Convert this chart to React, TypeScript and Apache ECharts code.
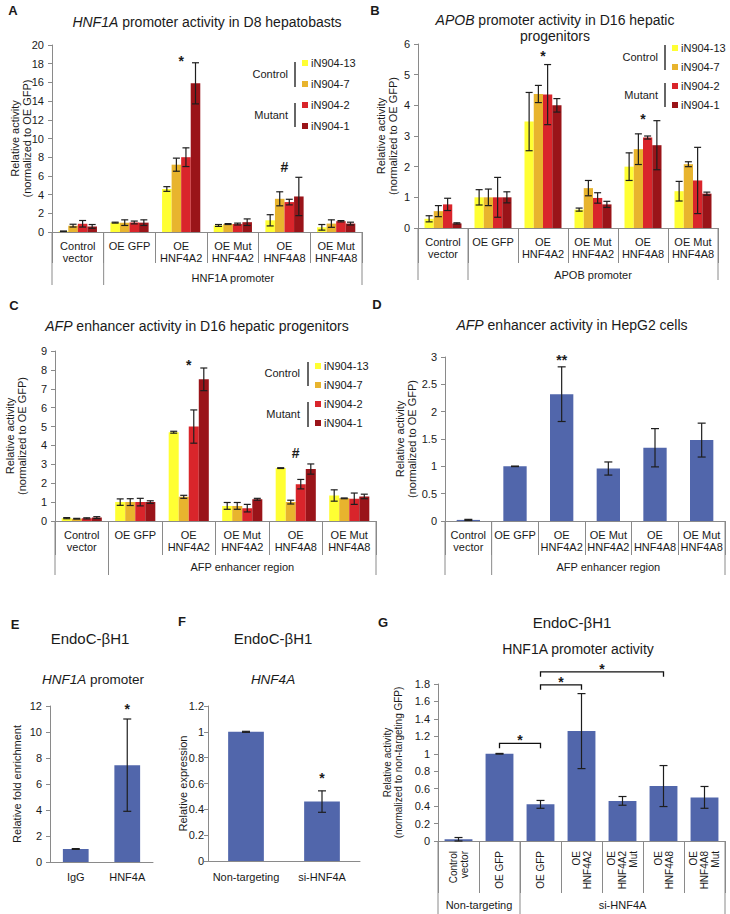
import React, { useEffect, useRef } from "react";
import * as echarts from "echarts";

const FONT = "'Liberation Sans', Arial, Helvetica, sans-serif";
const TEXT = "#1a1a1a";
const AXIS = "#8a8a8a";
const ERR = "#1e1e1e";
const BLUE = "#5166AB";

// ---------- data ----------
const promoterCategories = ["Control\nvector", "OE GFP", "OE\nHNF4A2", "OE Mut\nHNF4A2", "OE\nHNF4A8", "OE Mut\nHNF4A8"];
const lineNames = ["iN904-13", "iN904-7", "iN904-2", "iN904-1"];
const lineColors = ["#FFFF33", "#E8B42E", "#D9252B", "#9A1419"];

// Panel A: HNF1A promoter, D8 hepatoblasts (rows = lines, cols = categories)
const aMeans = [
  [0.08, 1.0, 4.6, 0.7, 1.25, 0.5],
  [0.68, 1.0, 7.2, 0.85, 3.55, 0.9],
  [0.88, 1.02, 8.0, 0.85, 3.2, 1.15],
  [0.6, 1.0, 15.9, 1.05, 3.8, 0.9],
];
const aErrors = [
  [0.02, 0.05, 0.25, 0.1, 0.6, 0.3],
  [0.15, 0.3, 0.7, 0.05, 0.75, 0.4],
  [0.35, 0.15, 1.0, 0.1, 0.3, 0.07],
  [0.2, 0.3, 2.2, 0.35, 2.05, 0.15],
];
// Panel B: APOB promoter, D16 hepatic progenitors
const bMeans = [
  [0.3, 1.0, 3.47, 0.6, 2.0, 1.2],
  [0.55, 1.0, 4.37, 1.3, 2.57, 2.08],
  [0.77, 1.0, 4.35, 0.98, 2.95, 1.55],
  [0.15, 1.0, 4.0, 0.77, 2.7, 1.12],
];
const bErrors = [
  [0.1, 0.25, 0.95, 0.05, 0.45, 0.32],
  [0.18, 0.27, 0.28, 0.25, 0.5, 0.08],
  [0.2, 0.65, 0.98, 0.17, 0.05, 1.08],
  [0.02, 0.18, 0.22, 0.1, 0.8, 0.05],
];
// Panel C: AFP enhancer, D16 hepatic progenitors
const cMeans = [
  [0.15, 1.0, 4.7, 0.8, 2.8, 1.35],
  [0.12, 1.0, 1.28, 0.8, 1.0, 1.2],
  [0.14, 1.0, 5.0, 0.68, 1.95, 1.18],
  [0.18, 1.0, 7.5, 1.15, 2.75, 1.3],
];
const cErrors = [
  [0.03, 0.17, 0.05, 0.18, 0.02, 0.3],
  [0.02, 0.18, 0.08, 0.18, 0.1, 0.02],
  [0.03, 0.2, 0.88, 0.2, 0.25, 0.3],
  [0.05, 0.07, 0.6, 0.05, 0.27, 0.12],
];
// Panel D: AFP enhancer, HepG2
const dMeans = [0.02, 1.0, 2.32, 0.96, 1.34, 1.48];
const dErrors = [0.01, 0.005, 0.5, 0.12, 0.35, 0.31];
// Panel E
const eCategories = ["IgG", "HNF4A"];
const eMeans = [1.0, 7.45];
const eErrors = [0.03, 3.55];
// Panel F
const fCategories = ["Non-targeting", "si-HNF4A"];
const fMeans = [1.0, 0.46];
const fErrors = [0.004, 0.083];
// Panel G
const gCategories = ["Control\nvector", "OE GFP", "OE GFP", "OE\nHNF4A2", "OE\nHNF4A2\nMut", "OE\nHNF4A8", "OE\nHNF4A8\nMut"];
const gMeans = [0.02, 1.0, 0.42, 1.26, 0.46, 0.63, 0.5];
const gErrors = [0.02, 0.004, 0.045, 0.43, 0.05, 0.235, 0.125];

// group labels under the category axes
const abcdGroups: [number, number, string][][] = [
  [[1, 6, "HNF1A promoter"]],
  [[1, 6, "APOB promoter"]],
  [[1, 6, "AFP enhancer region"]],
  [[1, 6, "AFP enhancer region"]],
];
const gGroups: [number, number, string][] = [
  [0, 2, "Non-targeting"],
  [2, 7, "si-HNF4A"],
];

// significance marks: category index, value where the mark sits, text
const aMarks = [{ cat: 2, value: 18.3, text: "*" }, { cat: 4, value: 6.95, text: "#" }];
const bMarks = [{ cat: 2, value: 5.6, text: "*" }, { cat: 4, value: 3.55, text: "*" }];
const cMarks = [{ cat: 2, value: 8.26, text: "*" }, { cat: 4, value: 3.6, text: "#" }];
const dMarks = [{ cat: 2, value: 2.95, text: "**" }];
const eMarks = [{ cat: 1, value: 11.75, text: "*" }];
const fMarks = [{ cat: 1, value: 0.64, text: "*" }];
// G comparison brackets: from category, to category, bracket level
const gBrackets = [
  { from: 1, to: 2, value: 1.12 },
  { from: 2, to: 3, value: 1.79 },
  { from: 2, to: 5, value: 1.94 },
];

// ---------- layout ----------
const layouts = [
  { left: 52, top: 45, width: 310, height: 187 }, // A
  { left: 418, top: 44, width: 300, height: 184 }, // B
  { left: 55, top: 351, width: 321, height: 170 }, // C
  { left: 445, top: 357, width: 280, height: 164 }, // D
  { left: 50, top: 706, width: 103, height: 156 }, // E
  { left: 208, top: 706, width: 152, height: 155 }, // F
  { left: 438, top: 684, width: 287, height: 157 }, // G
];

function catAxis(gi: number, data: string[], tickLen: number, extra: any = {}) {
  return {
    type: "category",
    gridIndex: gi,
    data,
    axisLine: { show: true, lineStyle: { color: AXIS, width: 1 } },
    axisTick: { show: tickLen > 0, length: tickLen, interval: 0, lineStyle: { color: AXIS, width: 1 } },
    axisLabel: {
      interval: 0,
      fontSize: 11,
      lineHeight: 12,
      color: TEXT,
      fontFamily: FONT,
      margin: 8,
      ...extra,
    },
    splitLine: { show: false },
  };
}

function valAxis(gi: number, max: number, interval: number, name: string, nameGap: number, nameSize = 11, labelMargin = 8) {
  return {
    type: "value",
    gridIndex: gi,
    min: 0,
    max,
    interval,
    name,
    nameLocation: "middle",
    nameGap,
    nameRotate: 90,
    nameMoveOverlap: false,
    nameTextStyle: { fontSize: nameSize, lineHeight: nameSize + 1, color: TEXT, fontFamily: FONT },
    axisLine: { show: true, lineStyle: { color: AXIS, width: 1 } },
    axisTick: { show: true, length: 4, inside: false, lineStyle: { color: AXIS } },
    axisLabel: { fontSize: 11, color: TEXT, fontFamily: FONT, margin: labelMargin },
    splitLine: { show: false },
  };
}

function errorSeries(gi: number, data: number[][], n: number, gapFrac: number, cap: number) {
  return {
    type: "custom",
    xAxisIndex: gi,
    yAxisIndex: gi,
    data,
    z: 10,
    silent: true,
    encode: { x: 0, y: [2, 3] },
    renderItem: (_params: any, api: any) => {
      const c = api.value(0);
      const k = api.value(1);
      const band = api.size([1, 0])[0];
      const bw = (band * (1 - gapFrac)) / n;
      const cx = api.coord([c, 0])[0] + (k - (n - 1) / 2) * bw;
      const yl = api.coord([c, api.value(2)])[1];
      const yh = api.coord([c, api.value(3)])[1];
      const st = { stroke: ERR, lineWidth: 1.2 };
      return {
        type: "group",
        children: [
          { type: "line", shape: { x1: cx, y1: yl, x2: cx, y2: yh }, style: st },
          { type: "line", shape: { x1: cx - cap, y1: yh, x2: cx + cap, y2: yh }, style: st },
          { type: "line", shape: { x1: cx - cap, y1: yl, x2: cx + cap, y2: yl }, style: st },
        ],
      };
    },
  };
}

function groupedSeries(gi: number, means: number[][], errors: number[][], gapFrac: number) {
  const out: any[] = means.map((row, k) => ({
    type: "bar",
    name: lineNames[k],
    xAxisIndex: gi,
    yAxisIndex: gi,
    data: row,
    barGap: "0%",
    barCategoryGap: `${gapFrac * 100}%`,
    itemStyle: { color: lineColors[k] },
    silent: true,
  }));
  const err: number[][] = [];
  means.forEach((row, k) =>
    row.forEach((m, c) => err.push([c, k, Math.max(0, m - errors[k][c]), m + errors[k][c]]))
  );
  out.push(errorSeries(gi, err, means.length, gapFrac, 3.5));
  return out;
}

function singleSeries(gi: number, means: number[], errors: number[], gapFrac: number, cap: number) {
  const err = means.map((m, c) => [c, 0, Math.max(0, m - errors[c]), m + errors[c]]);
  return [
    {
      type: "bar",
      xAxisIndex: gi,
      yAxisIndex: gi,
      data: means,
      barCategoryGap: `${gapFrac * 100}%`,
      itemStyle: { color: BLUE },
      silent: true,
    },
    errorSeries(gi, err, 1, gapFrac, cap),
  ];
}

const legendSpecs = [
  { left: 302, top: 57, gap: 9 },
  { left: 672, top: 42, gap: 7 },
  { left: 315, top: 360, gap: 7 },
];

function buildOption() {
  const RA = "Relative activity\n(normalized to OE GFP)";
  return {
    animation: false,
    textStyle: { fontFamily: FONT },
    grid: layouts.map((l) => ({ ...l, containLabel: false, outerBoundsMode: "none" })),
    xAxis: [
      catAxis(0, promoterCategories, 31),
      catAxis(1, promoterCategories, 35),
      catAxis(2, promoterCategories, 34),
      catAxis(3, promoterCategories, 34),
      catAxis(4, eCategories, 0, { margin: 9 }),
      catAxis(5, fCategories, 0, { margin: 10 }),
      catAxis(6, gCategories, 52, { rotate: 90, fontSize: 10, lineHeight: 11, margin: 10 }),
    ],
    yAxis: [
      valAxis(0, 20, 2, RA, 19),
      valAxis(1, 6, 1, RA, 19),
      valAxis(2, 9, 1, RA, 27),
      valAxis(3, 3, 0.5, RA, 27),
      valAxis(4, 12, 2, "Relative fold enrichment", 27),
      valAxis(5, 1.2, 0.2, "Relative expression", 19, 11, 4),
      valAxis(6, 1.8, 0.2, "Relative activity\n(normalized to non-targeting GFP)", 34, 10),
    ],
    legend: legendSpecs.map((s) => ({
      orient: "vertical",
      left: s.left,
      top: s.top,
      padding: 0,
      itemGap: s.gap,
      itemWidth: 6,
      itemHeight: 6,
      icon: "rect",
      selectedMode: false,
      data: lineNames,
      textStyle: { fontSize: 11, lineHeight: 12, color: TEXT, fontFamily: FONT, padding: [0, 0, 0, -2] },
    })),
    series: [
      ...groupedSeries(0, aMeans, aErrors, 0.26),
      ...groupedSeries(1, bMeans, bErrors, 0.26),
      ...groupedSeries(2, cMeans, cErrors, 0.25),
      ...singleSeries(3, dMeans, dErrors, 0.5, 4),
      ...singleSeries(4, eMeans, eErrors, 0.5, 4),
      ...singleSeries(5, fMeans, fErrors, 0.53, 4),
      ...singleSeries(6, gMeans, gErrors, 0.32, 4),
    ],
  };
}

function buildGraphics(chart: any) {
  const els: any[] = [];
  const P = (gi: number, x: number, y: number) =>
    chart.convertToPixel({ xAxisIndex: gi, yAxisIndex: gi }, [x, y]) as number[];
  const band = (gi: number) => {
    const a = P(gi, 0, 0);
    const b = P(gi, 1, 0);
    return { c0: a[0], w: b[0] - a[0], axisY: a[1] };
  };
  const text = (x: number, y: number, t: string, o: any = {}) =>
    els.push({
      type: "text",
      x,
      y,
      silent: true,
      style: {
        text: t,
        fill: TEXT,
        fontFamily: FONT,
        fontSize: o.size ?? 11,
        fontWeight: o.weight ?? "normal",
        align: o.align ?? "center",
        verticalAlign: o.valign ?? "middle",
        rich: o.rich,
      },
    });
  const line = (x1: number, y1: number, x2: number, y2: number, color = AXIS, w = 1) =>
    els.push({ type: "line", silent: true, shape: { x1, y1, x2, y2 }, style: { stroke: color, lineWidth: w } });
  const italic = (size: number) => ({ i: { fontStyle: "italic", fontSize: size, fontFamily: FONT, fill: TEXT } });

  // panel letters
  const letters: [string, number, number][] = [
    ["A", 13, 10], ["B", 375, 10], ["C", 14, 305], ["D", 377, 304],
    ["E", 15, 624], ["F", 182, 621], ["G", 383, 622],
  ];
  letters.forEach(([t, x, y]) => text(x, y, t, { size: 13, weight: "bold" }));

  // titles
  text(207, 22, "{i|HNF1A} promoter activity in D8 hepatobasts", { size: 14, rich: italic(14) });
  text(555, 20, "{i|APOB} promoter activity in D16 hepatic", { size: 14, rich: italic(14) });
  text(555, 36, "progenitors", { size: 14 });
  text(197, 326, "{i|AFP} enhancer activity in D16 hepatic progenitors", { size: 14, rich: italic(14) });
  text(572, 325, "{i|AFP} enhancer activity in HepG2 cells", { size: 14, rich: italic(14) });
  text(90, 638, "EndoC-βH1", { size: 15 });
  text(93, 679, "{i|HNF1A} promoter", { size: 13.5, rich: italic(13.5) });
  text(273, 638, "EndoC-βH1", { size: 15 });
  text(273, 679, "{i|HNF4A}", { size: 13.5, rich: italic(13.5) });
  text(572, 622, "EndoC-βH1", { size: 15 });
  text(578, 649, "HNF1A promoter activity", { size: 14 });

  // group separators & group labels
  const groupDefs = [
    { gi: 0, bounds: [0, 1, 6], depth: 53, labels: abcdGroups[0], dy: 46 },
    { gi: 1, bounds: [0, 1, 6], depth: 52, labels: abcdGroups[1], dy: 47 },
    { gi: 2, bounds: [0, 1, 6], depth: 54, labels: abcdGroups[2], dy: 46 },
    { gi: 3, bounds: [0, 1, 6], depth: 54, labels: abcdGroups[3], dy: 46 },
    { gi: 6, bounds: [0, 2, 7], depth: 73, labels: gGroups, dy: 64 },
  ];
  groupDefs.forEach((g) => {
    const b = band(g.gi);
    const bx = (i: number) => b.c0 - b.w / 2 + i * b.w;
    g.bounds.forEach((i) => line(bx(i), b.axisY, bx(i), b.axisY + g.depth));
    g.labels.forEach(([f, t, s]) => text((bx(f) + bx(t)) / 2, b.axisY + g.dy, s, { size: 11 }));
  });

  // legend group labels (Control / Mutant)
  const legendDecor = [
    { rx: 288, lx: 295, c: [62, 87, 74], m: [103, 127, 115] },
    { rx: 658, lx: 665, c: [45, 70, 57], m: [83, 107, 95] },
    { rx: 300, lx: 308, c: [362, 386, 373], m: [402, 427, 414] },
  ];
  legendDecor.forEach((d) => {
    text(d.rx, d.c[2], "Control", { size: 11, align: "right" });
    text(d.rx, d.m[2], "Mutant", { size: 11, align: "right" });
    line(d.lx, d.c[0], d.lx, d.c[1], "#333", 1.5);
    line(d.lx, d.m[0], d.lx, d.m[1], "#333", 1.5);
  });

  // significance marks
  const markSets: [number, { cat: number; value: number; text: string }[]][] = [
    [0, aMarks], [1, bMarks], [2, cMarks], [3, dMarks], [4, eMarks], [5, fMarks],
  ];
  markSets.forEach(([gi, marks]) =>
    marks.forEach((m) => {
      const p = P(gi, m.cat, m.value);
      text(p[0], p[1], m.text, { size: 14, weight: "bold" });
    })
  );

  // G brackets
  gBrackets.forEach((br) => {
    const a = P(6, br.from, br.value);
    const b = P(6, br.to, br.value);
    els.push({
      type: "polyline",
      silent: true,
      shape: { points: [[a[0], a[1] + 5], [a[0], a[1]], [b[0], a[1]], [b[0], a[1] + 5]] },
      style: { stroke: "#111", lineWidth: 1.3, fill: null },
    });
    text((a[0] + b[0]) / 2, a[1] - 3, "*", { size: 14, weight: "bold" });
  });

  return els;
}

export default function App() {
  const ref = useRef<HTMLDivElement>(null);
  useEffect(() => {
    document.body.style.margin = "0";
    const chart = echarts.init(ref.current!, null, { renderer: "svg" });
    chart.setOption(buildOption() as any);
    chart.setOption({ graphic: { elements: buildGraphics(chart) } } as any);
    return () => chart.dispose();
  }, []);
  return <div ref={ref} style={{ position: "absolute", left: 0, top: 0, width: 730, height: 914 }} />;
}
